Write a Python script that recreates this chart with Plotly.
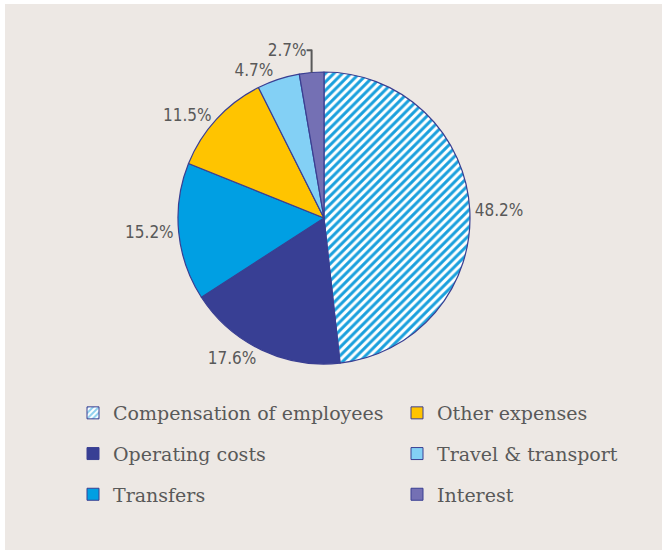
import plotly.graph_objects as go

# Share of spending by category (%), clockwise from 12 o'clock
categories = [
    "Compensation of employees",
    "Operating costs",
    "Transfers",
    "Other expenses",
    "Travel & transport",
    "Interest",
]
shares = [48.2, 17.6, 15.2, 11.5, 4.7, 2.7]
colors = ["#ffffff", "#383f94", "#009fe3", "#ffc400", "#83d0f5", "#7470b4"]
hatched = ["/", "", "", "", "", ""]

# legend columns (column-major, as in the original)
legend_col1 = ["Compensation of employees", "Operating costs", "Transfers"]
legend_col2 = ["Other expenses", "Travel & transport", "Interest"]

W, H = 662, 552
EDGE = "#3a3f92"
STRIPE = "#1aa0dd"
BG = "#ede8e4"
TEXT = "#595959"

fig = go.Figure()

fig.add_trace(
    go.Pie(
        labels=categories,
        values=shares,
        sort=False,
        direction="clockwise",
        rotation=0,
        marker=dict(
            colors=colors,
            line=dict(color=EDGE, width=1.2),
            pattern=dict(shape=hatched, fgcolor=STRIPE, size=6, solidity=0.5),
        ),
        texttemplate="%{value:.1f}%",
        textposition="outside",
        outsidetextfont=dict(family="Liberation Sans Narrow, DejaVu Sans Condensed, sans-serif", size=17, color=TEXT),
        showlegend=False,
        hoverinfo="label+percent",
        domain=dict(x=[0.2175, 0.7613], y=[0.3406, 0.8696]),
    )
)

# legend entries drawn via empty bar traces so the two columns can be laid out
for name, color, shape in zip(categories, colors, hatched):
    fig.add_trace(
        go.Bar(
            x=[None],
            y=[None],
            name=name,
            legendgroup=name,
            legend="legend" if name in legend_col1 else "legend2",
            marker=dict(
                color=color,
                line=dict(color=EDGE, width=1),
                pattern=dict(shape=shape, fgcolor=STRIPE, size=5, solidity=0.5),
            ),
        )
    )

legend_style = dict(
    font=dict(family="DejaVu Serif, serif", size=19, color=TEXT),
    bgcolor="rgba(0,0,0,0)",
    orientation="v",
    traceorder="grouped",
    tracegroupgap=13,
    yanchor="top",
    xanchor="left",
)

fig.update_layout(
    width=W,
    height=H,
    margin=dict(l=0, r=0, t=0, b=0),
    paper_bgcolor="#ffffff",
    plot_bgcolor="rgba(0,0,0,0)",
    xaxis=dict(visible=False),
    yaxis=dict(visible=False),
    legend=dict(x=73 / W, y=1 - 394 / H, **legend_style),
    legend2=dict(x=397 / W, y=1 - 394 / H, **legend_style),
    shapes=[
        dict(
            type="rect",
            xref="paper",
            yref="paper",
            x0=5 / W,
            x1=1,
            y0=2 / H,
            y1=1 - 4 / H,
            fillcolor=BG,
            line=dict(width=0),
            layer="below",
        )
    ],
)

# drop the default page margin so the figure sits flush in the window
fig.write_html(
    "out.html",
    config={"displayModeBar": False},
    post_script="document.body.style.margin='0px';",
)
